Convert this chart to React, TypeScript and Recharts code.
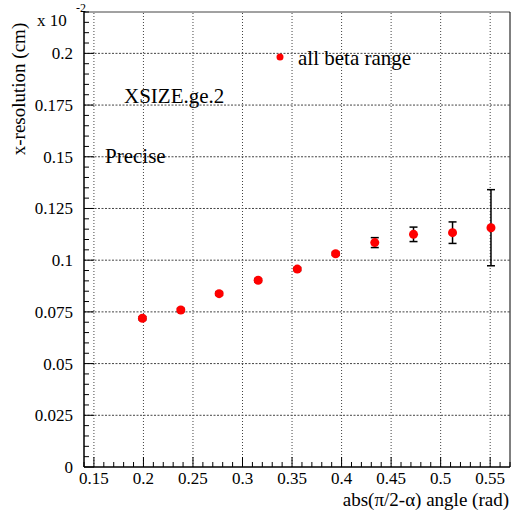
import { ScatterChart, Scatter, XAxis, YAxis, ErrorBar, ReferenceLine } from 'recharts'

// points
const angle = [0.199, 0.2377, 0.2764, 0.3158, 0.3553, 0.394, 0.4335, 0.4726, 0.512, 0.5508]
const resolution = [0.0719, 0.0759, 0.0838, 0.0903, 0.0957, 0.1031, 0.1085, 0.1125, 0.1133, 0.1157]
const resolutionErr = [0.0008, 0.0008, 0.0008, 0.0008, 0.0008, 0.0008, 0.0024, 0.0035, 0.0052, 0.0184]

const xMajor = [0.15, 0.2, 0.25, 0.3, 0.35, 0.4, 0.45, 0.5, 0.55]
const yMajor = [0, 0.025, 0.05, 0.075, 0.1, 0.125, 0.15, 0.175, 0.2]

const xTicks = Array.from({ length: 44 }, (_, i) => (i + 14) / 100)
const yTicks = Array.from({ length: 45 }, (_, i) => (i * 5) / 1000)

const data = angle.map((x, i) => ({ x, y: resolution[i], err: resolutionErr[i] }))

const font = '"Liberation Serif", serif'

const isMajor = (v, list) => list.some((m) => Math.abs(m - v) < 1e-6)
const fmt = (v) => String(Number(v.toFixed(3)))

const XTick = ({ x, y, payload }) => {
  const major = isMajor(payload.value, xMajor)
  return (
    <g>
      <line x1={x} x2={x} y1={y} y2={y - (major ? 10 : 5)} stroke="#000" />
      {major && (
        <text x={x} y={y + 17} textAnchor="middle" style={{ fontFamily: font, fontSize: 17 }} fill="#000">
          {fmt(payload.value)}
        </text>
      )}
    </g>
  )
}

const YTick = ({ x, y, payload }) => {
  const major = isMajor(payload.value, yMajor)
  return (
    <g>
      <line x1={x} x2={x + (major ? 10 : 5)} y1={y} y2={y} stroke="#000" />
      {major && (
        <text x={x - 11} y={y + 6} textAnchor="end" style={{ fontFamily: font, fontSize: 17 }} fill="#000">
          {fmt(payload.value)}
        </text>
      )}
    </g>
  )
}

const Dot = (props) => <circle cx={props.cx} cy={props.cy} r={4.5} fill="#ff0000" />
const NoDot = () => null

export default function App() {
  return (
    <div style={{ position: 'absolute', left: 0, top: 0, width: 511, height: 514, fontFamily: font }}>
      <ScatterChart width={511} height={514} margin={{ top: 12, right: 1, left: 0, bottom: 0 }}>
        <XAxis
          type="number"
          dataKey="x"
          domain={[0.14, 0.57]}
          ticks={xTicks}
          interval={0}
          tickSize={0}
          tickMargin={0}
          tickLine={false}
          tick={<XTick />}
          height={47}
          allowDataOverflow
          axisLine={{ stroke: '#000', strokeWidth: 1.5 }}
        />
        <YAxis
          type="number"
          dataKey="y"
          domain={[0, 0.22]}
          ticks={yTicks}
          interval={0}
          tickSize={0}
          tickMargin={0}
          tickLine={false}
          tick={<YTick />}
          width={84}
          allowDataOverflow
          axisLine={{ stroke: '#000', strokeWidth: 1.5 }}
        />
        {xMajor.map((v) => (
          <ReferenceLine key={'gx' + v} x={v} stroke="#444" strokeDasharray="1 2" />
        ))}
        {yMajor.slice(1).map((v) => (
          <ReferenceLine key={'gy' + v} y={v} stroke="#444" strokeDasharray="2 1.5" />
        ))}
        <ReferenceLine y={0.22} stroke="#444" />
        <ReferenceLine x={0.57} stroke="#000" />
        <Scatter data={data} shape={NoDot} isAnimationActive={false}>
          <ErrorBar dataKey="err" direction="y" width={4} stroke="#000" strokeWidth={1.5} />
        </Scatter>
        <Scatter data={data} shape={Dot} isAnimationActive={false} />
      </ScatterChart>
      <svg
        width={511}
        height={514}
        style={{ position: 'absolute', left: 0, top: 0, pointerEvents: 'none', fontFamily: font }}
      >
        <text x={37} y={26} fontSize={17}>x 10</text>
        <text x={76} y={12} fontSize={12}>-2</text>
        <text transform="translate(25,89) rotate(-90)" textAnchor="middle" fontSize={19}>
          x-resolution (cm)
        </text>
        <text x={509} y={506} textAnchor="end" fontSize={19}>
          abs(π/2-α) angle (rad)
        </text>
        <text x={124} y={103} fontSize={21}>XSIZE.ge.2</text>
        <text x={105} y={163} fontSize={21}>Precise</text>
        <circle cx={280} cy={57} r={3.5} fill="#ff0000" />
        <text x={298} y={65} fontSize={21}>all beta range</text>
      </svg>
    </div>
  )
}
